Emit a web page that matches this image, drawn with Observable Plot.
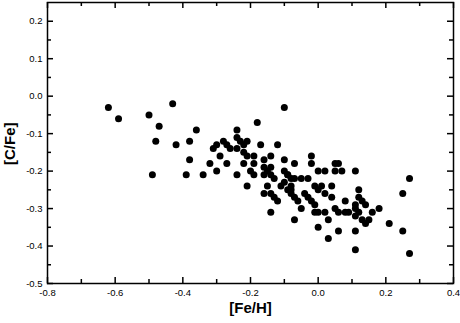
<!DOCTYPE html>
<html>
<head>
<meta charset="utf-8">
<script src="https://cdn.jsdelivr.net/npm/d3@7"></script>
<script src="https://cdn.jsdelivr.net/npm/@observablehq/plot@0.6"></script>
<style>
  html, body { margin: 0; padding: 0; background: #fff; }
  #chart svg { display: block; }
</style>
</head>
<body>
<div id="chart"></div>
<script>
// [Fe/H] and [C/Fe] values
const feH = [
  -0.62, -0.59, -0.50, -0.43, -0.47, -0.48, -0.42, -0.38, -0.36, -0.38,
  -0.49, -0.39, -0.34, -0.32, -0.30, -0.31, -0.30, -0.29, -0.28, -0.27,
  -0.26, -0.27, -0.24, -0.24, -0.23, -0.21, -0.22, -0.24, -0.22, -0.21,
  -0.19, -0.17, -0.12, -0.18, -0.10, -0.14, -0.16, -0.10, -0.02, -0.22,
  -0.19, -0.07, -0.02, 0.05, 0.06, -0.24, -0.20, -0.19, -0.16, -0.14,
  -0.15, -0.16, -0.14, -0.13, -0.10, -0.09, -0.08, -0.07, -0.05, -0.03,
  0.00, 0.02, 0.05, 0.07, 0.11, -0.21, -0.15, -0.16, -0.14, -0.13,
  -0.12, -0.14, -0.11, -0.10, -0.08, -0.09, -0.08, -0.07, -0.06, -0.05,
  -0.07, -0.01, 0.01, 0.00, 0.04, 0.02, 0.04, -0.04, -0.03, -0.02,
  -0.01, -0.01, 0.00, 0.02, 0.03, 0.00, 0.03, 0.06, 0.11, 0.11,
  0.05, 0.06, 0.08, 0.09, 0.08, 0.12, 0.12, 0.13, 0.14, 0.11,
  0.11, 0.12, 0.11, 0.13, 0.14, 0.15, 0.16, 0.18, 0.21, 0.25,
  0.27, 0.25, 0.27, -0.09, -0.08
];
const cFe = [
  -0.03, -0.06, -0.05, -0.02, -0.08, -0.12, -0.13, -0.12, -0.09, -0.17,
  -0.21, -0.21, -0.21, -0.18, -0.20, -0.14, -0.13, -0.16, -0.12, -0.13,
  -0.14, -0.18, -0.09, -0.11, -0.12, -0.12, -0.13, -0.14, -0.15, -0.16,
  -0.16, -0.13, -0.13, -0.07, -0.03, -0.16, -0.17, -0.17, -0.16, -0.18,
  -0.18, -0.18, -0.18, -0.18, -0.18, -0.21, -0.20, -0.21, -0.19, -0.19,
  -0.20, -0.21, -0.21, -0.22, -0.20, -0.21, -0.22, -0.22, -0.22, -0.22,
  -0.20, -0.20, -0.20, -0.20, -0.20, -0.24, -0.24, -0.26, -0.26, -0.27,
  -0.28, -0.31, -0.24, -0.23, -0.24, -0.25, -0.26, -0.27, -0.28, -0.30,
  -0.33, -0.24, -0.24, -0.25, -0.24, -0.26, -0.27, -0.26, -0.27, -0.28,
  -0.29, -0.31, -0.31, -0.31, -0.33, -0.35, -0.38, -0.36, -0.36, -0.41,
  -0.30, -0.31, -0.31, -0.31, -0.28, -0.25, -0.27, -0.28, -0.29, -0.29,
  -0.30, -0.31, -0.32, -0.33, -0.34, -0.33, -0.31, -0.30, -0.34, -0.26,
  -0.22, -0.36, -0.42, -0.21, -0.25
];

// axis tick values and labels
const xMajor = [-0.8, -0.6, -0.4, -0.2, 0.0, 0.2, 0.4];
const xMinor = [-0.7, -0.5, -0.3, -0.1, 0.1, 0.3];
const yMajor = [-0.5, -0.4, -0.3, -0.2, -0.1, 0.0, 0.1, 0.2];
const yMinor = [-0.45, -0.35, -0.25, -0.15, -0.05, 0.05, 0.15];
const xTitle = "[Fe/H]";
const yTitle = "[C/Fe]";

const points = feH.map((x, i) => ({x, y: cFe[i]}));

const W = 460, H = 323;
const mL = 47, mR = 7, mT = 2, mB = 40;
const innerH = H - mT - mB, innerW = W - mL - mR;
const majLen = 6, minLen = 4;

const plot = Plot.plot({
  width: W,
  height: H,
  marginLeft: mL,
  marginRight: mR,
  marginTop: mT,
  marginBottom: mB,
  style: {fontFamily: "'Liberation Sans', Arial, sans-serif", fontSize: "9.5px", color: "black", background: "white"},
  x: {domain: [-0.8, 0.4]},
  y: {domain: [-0.5, 0.25]},
  marks: [
    // inward ticks on all four sides
    Plot.tickX(xMajor, {x: d => d, insetBottom: innerH - majLen, stroke: "black", strokeWidth: 1.5}),
    Plot.tickX(xMajor, {x: d => d, insetTop: innerH - majLen, stroke: "black", strokeWidth: 1.5}),
    Plot.tickX(xMinor, {x: d => d, insetBottom: innerH - minLen, stroke: "black", strokeWidth: 1.5}),
    Plot.tickX(xMinor, {x: d => d, insetTop: innerH - minLen, stroke: "black", strokeWidth: 1.5}),
    Plot.tickY(yMajor, {y: d => d, insetRight: innerW - majLen, stroke: "black", strokeWidth: 1.5}),
    Plot.tickY(yMajor, {y: d => d, insetLeft: innerW - majLen, stroke: "black", strokeWidth: 1.5}),
    Plot.tickY(yMinor, {y: d => d, insetRight: innerW - minLen, stroke: "black", strokeWidth: 1.5}),
    Plot.tickY(yMinor, {y: d => d, insetLeft: innerW - minLen, stroke: "black", strokeWidth: 1.5}),
    Plot.axisX({ticks: xMajor, tickSize: 0, tickPadding: 6, tickFormat: d => d.toFixed(1), label: null, fill: "black"}),
    Plot.axisY({ticks: yMajor, tickSize: 0, tickPadding: 5, tickFormat: d => d.toFixed(1), label: null, fill: "black"}),
    Plot.frame({stroke: "black", strokeWidth: 1.5}),
    Plot.dot(points, {x: "x", y: "y", r: 3.5, fill: "black", stroke: "none"}),
    Plot.text([xTitle], {text: d => d, frameAnchor: "bottom", dy: 29, fontSize: 15, fontWeight: "bold", fill: "black"}),
    Plot.text([yTitle], {text: d => d, frameAnchor: "left", dx: -37, dy: 22, rotate: -90, fontSize: 15, fontWeight: "bold", fill: "black"})
  ]
});

document.getElementById("chart").appendChild(plot);
</script>
</body>
</html>
